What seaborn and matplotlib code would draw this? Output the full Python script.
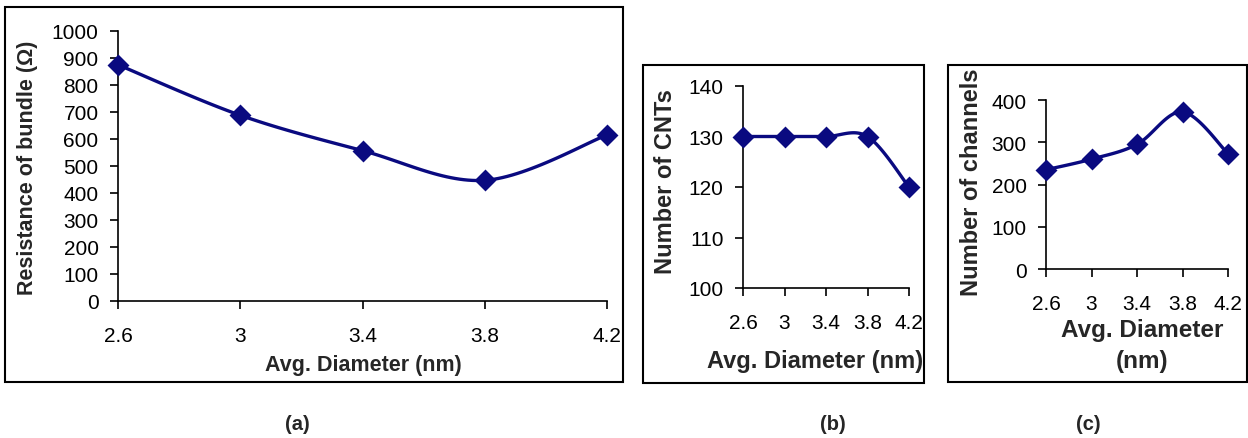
import numpy as np
import matplotlib
matplotlib.use("Agg")
import matplotlib.pyplot as plt
import seaborn as sns
from matplotlib.patches import Rectangle

diameters = [2.6, 3.0, 3.4, 3.8, 4.2]
resistance = [875, 688, 557, 447, 615]
num_cnts = [130, 130, 130, 130, 120]
num_channels = [235, 260, 295, 372, 273]
x_ticks = [2.6, 3.0, 3.4, 3.8, 4.2]
x_ticklabels = ["2.6", "3", "3.4", "3.8", "4.2"]

sns.set_theme(style="white")
plt.rcParams["font.family"] = ["Liberation Sans", "DejaVu Sans"]

W, H = 1248, 439
fig = plt.figure(figsize=(W / 100, H / 100), dpi=100)
LINE = "#0a0a80"
TICK_FS = 15


def smooth(x, y, n=30):
    x = np.asarray(x, float)
    y = np.asarray(y, float)
    px = np.concatenate([[x[0]], x, [x[-1]]])
    py = np.concatenate([[y[0]], y, [y[-1]]])
    xs, ys = [], []
    t = np.linspace(0, 1, n)
    for i in range(1, len(px) - 2):
        p0, p1, p2, p3 = (np.array([px[j], py[j]]) for j in (i - 1, i, i + 1, i + 2))
        c1 = p1 + (p2 - p0) / 6.0
        c2 = p2 - (p3 - p1) / 6.0
        b = ((1 - t) ** 3)[:, None] * p1 + (3 * (1 - t) ** 2 * t)[:, None] * c1 \
            + (3 * (1 - t) * t ** 2)[:, None] * c2 + (t ** 3)[:, None] * p2
        xs.append(b[:, 0])
        ys.append(b[:, 1])
    return np.concatenate(xs), np.concatenate(ys)


def box(x0, y0, x1, y1):
    fig.patches.append(Rectangle((x0 / W, 1 - y1 / H), (x1 - x0) / W, (y1 - y0) / H,
                                 transform=fig.transFigure, fill=False,
                                 edgecolor="black", lw=1.5))


def make_axes(x0, y0, x1, y1):
    ax = fig.add_axes([x0 / W, 1 - y1 / H, (x1 - x0) / W, (y1 - y0) / H])
    ax._px = (x0, y0, x1, y1)
    return ax


def place_label(ax, which, text, px, py, fs, **kw):
    x0, y0, x1, y1 = ax._px
    fx = (px - x0) / (x1 - x0)
    fy = (y1 - py) / (y1 - y0)
    if which == "x":
        lab = ax.set_xlabel(text, fontsize=fs, fontweight="bold", **kw)
        ax.xaxis.set_label_coords(fx, fy)
    else:
        lab = ax.set_ylabel(text, fontsize=fs, fontweight="bold", **kw)
        ax.yaxis.set_label_coords(fx, fy)
    lab.set_va("center")
    lab.set_ha("center")


def style(ax, ylim, yticks):
    ax.set_xlim(2.6, 4.2)
    ax.set_ylim(*ylim)
    ax.set_xticks(x_ticks)
    ax.set_xticklabels(x_ticklabels)
    ax.set_yticks(yticks)
    ax.set_yticklabels([str(v) for v in yticks])
    for s in ("top", "right"):
        ax.spines[s].set_visible(False)
    for s in ("left", "bottom"):
        ax.spines[s].set_color("black")
        ax.spines[s].set_linewidth(1.2)
    ax.tick_params(axis="both", direction="out", length=6, width=1.2, color="black",
                   labelsize=TICK_FS, labelcolor="black", bottom=True, left=True)
    ax.tick_params(axis="x", pad=12)
    ax.tick_params(axis="y", pad=8)
    ax.set_facecolor("white")


def draw(ax, y):
    xs, ys = smooth(diameters, y)
    sns.lineplot(x=xs, y=ys, ax=ax, color=LINE, lw=2.4, sort=False, clip_on=False)
    sns.scatterplot(x=diameters, y=y, ax=ax, marker="D", s=125, color=LINE,
                    edgecolor=LINE, linewidth=0, clip_on=False, zorder=5)


# Panel (a)
box(5, 8, 623, 383)
ax1 = make_axes(118, 32, 607, 302)
draw(ax1, resistance)
style(ax1, (0, 1000), list(range(0, 1001, 100)))
place_label(ax1, "x", "Avg. Diameter (nm)", 363, 366, 15.5)
place_label(ax1, "y", "Resistance of bundle (\u03a9)", 28, 168, 15.5)

# Panel (b)
box(643, 66, 924, 384)
ax2 = make_axes(743, 87, 909, 289)
draw(ax2, num_cnts)
style(ax2, (100, 140), [100, 110, 120, 130, 140])
place_label(ax2, "x", "Avg. Diameter (nm)", 815, 362, 17)
place_label(ax2, "y", "Number of CNTs", 665, 182, 17)

# Panel (c)
box(948, 66, 1247, 383)
ax3 = make_axes(1046, 101, 1228, 270)
draw(ax3, num_channels)
style(ax3, (0, 400), [0, 100, 200, 300, 400])
place_label(ax3, "x", "Avg. Diameter\n(nm)", 1142, 346, 17.5, linespacing=1.4)
place_label(ax3, "y", "Number of channels", 971, 182, 17)

for label, xc in (("(a)", 297), ("(b)", 833), ("(c)", 1088)):
    fig.text(xc / W, 1 - 425 / H, label, ha="center", va="center",
             fontsize=14.5, fontweight="bold")

fig.savefig("out.png", dpi=100, facecolor="white")
